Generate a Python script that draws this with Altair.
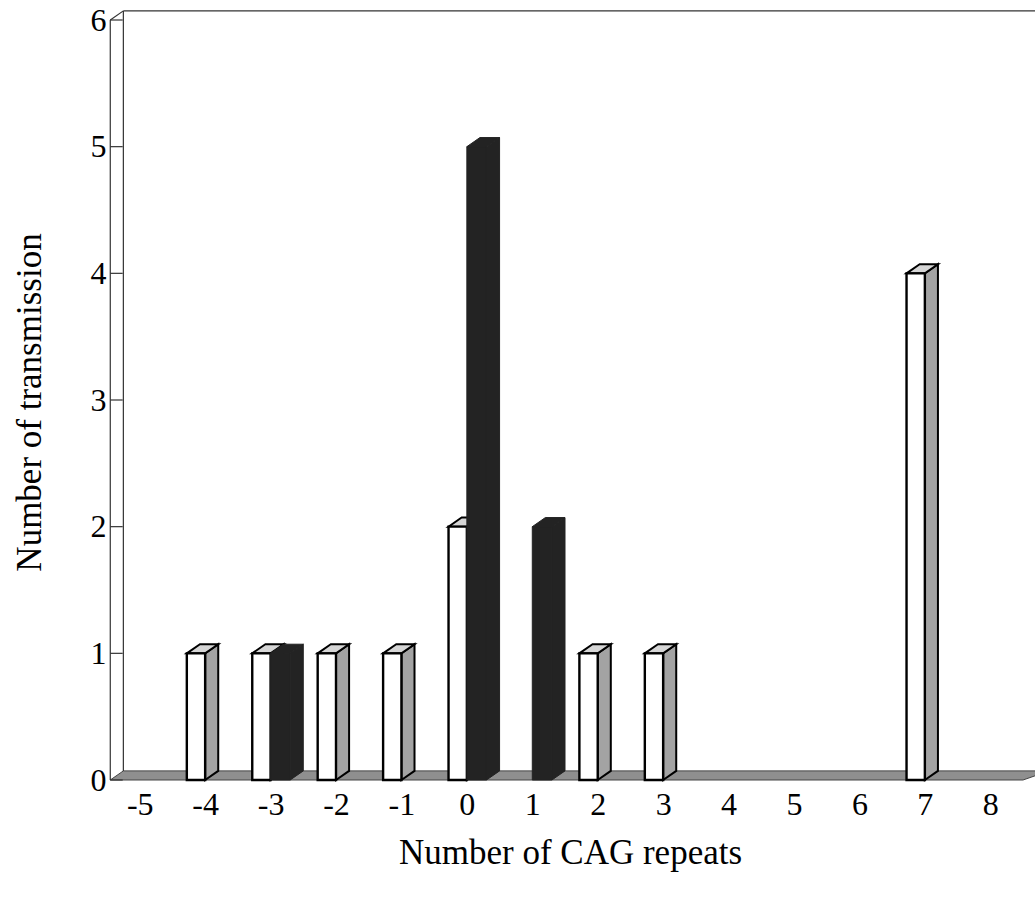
import altair as alt
import pandas as pd

# ---- data ----
cats = list(range(-5, 9))
white_x = [-4, -3, -2, -1, 0, 2, 3, 7]
white_n = [1, 1, 1, 1, 2, 1, 1, 4]
black_x = [-3, 0, 1]
black_n = [1, 5, 2]
y_ticks = [0, 1, 2, 3, 4, 5, 6]
x_title = "Number of CAG repeats"
y_title = "Number of transmission"

# ---- pseudo-3D geometry (style constants, in axis units) ----
WF = 0.28   # white bar front width
BF = 0.30   # black bar front width
DX = 0.20   # depth shift in x
DY = 0.072  # depth shift in y
XL = -5.45  # front-left wall position
XR = 8.50   # front-right end of floor
YMAX = 6

FONT = "Liberation Serif"

xscale = alt.Scale(domain=[-5.5, 8.5], nice=False, zero=False)
yscale = alt.Scale(domain=[0, 6], nice=False, zero=False)

x_axis = alt.Axis(values=cats, labelExpr="'' + datum.value", ticks=False, domain=False,
                  grid=False, labelFontSize=32, labelPadding=9, labelFont=FONT,
                  labelColor="black", title=x_title, titleFont=FONT, titleFontSize=35,
                  titleFontWeight="normal", titleColor="black", titleX=463, titleY=83,
                  titleBaseline="alphabetic", titleAlign="center")
y_axis = alt.Axis(values=y_ticks, labelExpr="'' + datum.value", ticks=False, domain=False,
                  grid=False, labelFontSize=32, labelPadding=1, labelFont=FONT,
                  labelColor="black", title=y_title, titleFont=FONT, titleFontSize=35,
                  titleFontWeight="normal", titleColor="black", titleX=-78, titleY=382,
                  titleAngle=-90, titleBaseline="middle", titleAlign="center")


def X(f):
    return alt.X(f"{f}:Q", scale=xscale, axis=x_axis)


def Y(f):
    return alt.Y(f"{f}:Q", scale=yscale, axis=y_axis)


# ---- tables built from the arrays ----
def front(xs, ns, w, x0shift=0.0):
    return pd.DataFrame({"x": [c + x0shift for c in xs],
                         "x2": [c + x0shift + w for c in xs],
                         "y": [0.0] * len(xs), "y2": ns})


def side(xs, ns, xstart):
    rows = []
    for i, (c, v) in enumerate(zip(xs, ns)):
        rows.append({"id": i, "x": c + xstart, "y": 0.0, "y2": v})
        rows.append({"id": i, "x": c + xstart + DX, "y": DY, "y2": v + DY})
    return pd.DataFrame(rows)


def top(xs, ns, xa, xb):
    rows = []
    for i, (c, v) in enumerate(zip(xs, ns)):
        rows.append({"id": i, "y": v, "x": c + xa, "x2": c + xb})
        rows.append({"id": i, "y": v + DY, "x": c + xa + DX, "x2": c + xb + DX})
    return pd.DataFrame(rows)


floor = pd.DataFrame({"id": [0, 0], "y": [0.0, DY], "x": [XL, XL + DX], "x2": [XR, XR + DX + 0.2]})

frame = pd.DataFrame({
    "x":  [XL, XL + DX, XL, XL + DX, XR + DX + 0.17],
    "y":  [0.0, DY, YMAX, YMAX + DY, DY],
    "x2": [XL, XL + DX, XL + DX, XR + DX + 0.4, XR + DX + 0.17],
    "y2": [YMAX, YMAX + DY, YMAX + DY, YMAX + DY, YMAX + DY],
})
ticks = pd.DataFrame({"x": [XL] * len(y_ticks), "x2": [XL + DX * 0.95] * len(y_ticks),
                      "y": y_ticks, "y2": y_ticks})

DOT = "#8f8f8f"
SIDE = "#a3a3a3"
DARK = "#232323"

layers = [
    alt.Chart(floor).mark_area(orient="horizontal", fill=DOT, stroke="#444", strokeWidth=1)
    .encode(y=Y("y"), x=X("x"), x2="x2", detail="id:N"),
    alt.Chart(frame).mark_rule(color="#333", strokeWidth=1.2)
    .encode(x=X("x"), x2="x2", y=Y("y"), y2="y2"),
    alt.Chart(ticks).mark_rule(color="#333", strokeWidth=1.2)
    .encode(x=X("x"), x2="x2", y=Y("y"), y2="y2"),
    # white bars
    alt.Chart(side(white_x, white_n, 0.0)).mark_area(orient="vertical", fill=SIDE, stroke="black", strokeWidth=2)
    .encode(x=X("x"), y=Y("y"), y2="y2", detail="id:N"),
    alt.Chart(top(white_x, white_n, -WF, 0.0)).mark_area(orient="horizontal", fill="#d6d6d6", stroke="black", strokeWidth=2)
    .encode(y=Y("y"), x=X("x"), x2="x2", detail="id:N"),
    alt.Chart(front(white_x, white_n, WF, -WF)).mark_rect(fill="white", stroke="black", strokeWidth=2.4)
    .encode(x=X("x"), x2="x2", y=Y("y"), y2="y2"),
    # black bars
    alt.Chart(side(black_x, black_n, BF)).mark_area(orient="vertical", fill=DARK, stroke=DARK, strokeWidth=1)
    .encode(x=X("x"), y=Y("y"), y2="y2", detail="id:N"),
    alt.Chart(top(black_x, black_n, 0.0, BF)).mark_area(orient="horizontal", fill=DARK, stroke=DARK, strokeWidth=1)
    .encode(y=Y("y"), x=X("x"), x2="x2", detail="id:N"),
    alt.Chart(front(black_x, black_n, BF, 0.0)).mark_rect(fill=DARK, stroke=DARK, strokeWidth=1)
    .encode(x=X("x"), x2="x2", y=Y("y"), y2="y2"),
]

chart = alt.layer(*layers).properties(
    width=916, height=760,
    padding={"left": 107, "top": 20, "right": 12, "bottom": 123},
    autosize=alt.AutoSizeParams(type="none"),
    background="white",
).configure_view(stroke=None)

chart.save("out.html", embed_options={"renderer": "svg", "actions": False})
